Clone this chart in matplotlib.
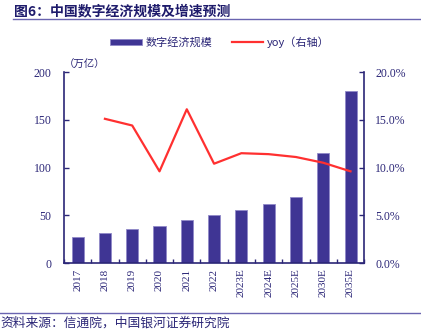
import matplotlib
matplotlib.use("Agg")
import matplotlib.pyplot as plt
import numpy as np

plt.rcParams['font.family'] = ['Noto Sans CJK SC', 'DejaVu Sans']

# 数据
years = ["2017", "2018", "2019", "2020", "2021", "2022",
         "2023E", "2024E", "2025E", "2030E", "2035E"]
scale = [27.2, 31.3, 35.8, 39.2, 45.5, 50.2, 56.0, 62.0, 69.0, 115.0, 180.0]
yoy = [np.nan, 15.1, 14.4, 9.6, 16.1, 10.4, 11.5, 11.4, 11.1, 10.5, 9.6]

navy = "#2b2677"
bar_c = "#3f3594"
serif = "Liberation Serif"

fig = plt.figure(figsize=(4.21, 3.31), dpi=100)
ax = fig.add_axes([0.152, 0.2054, 0.713, 0.577])
ax2 = ax.twinx()

x = np.arange(len(years))
ax.bar(x, scale, width=0.44, color=bar_c, edgecolor="#9089c8", linewidth=0.6,
       label="数字经济规模", zorder=2)
ax2.plot(x, yoy, color="#ff3030", linewidth=1.6, label="yoy（右轴）", zorder=3)

ax.set_xlim(-0.5, len(years) - 0.5)
ax.set_ylim(0, 200)
ax2.set_ylim(0, 20)
ax.set_yticks([0, 50, 100, 150, 200])
ax2.set_yticks([0, 5, 10, 15, 20])
ax2.set_yticklabels([f"{v:.1f}%" for v in [0, 5, 10, 15, 20]])

ax.set_xticks(x)
ax.set_xticklabels(years, rotation=90)
ax.set_xticks(np.arange(len(years) + 1) - 0.5, minor=True)

for a in (ax, ax2):
    for s in a.spines.values():
        s.set_visible(False)
ax2.set_zorder(2)
ax.set_zorder(1)
ax.patch.set_visible(False)
ax.spines['left'].set_visible(True)
ax.spines['bottom'].set_visible(True)
ax2.spines['right'].set_visible(True)
for s in (ax.spines['left'], ax.spines['bottom'], ax2.spines['right']):
    s.set_color(navy)
    s.set_linewidth(1.2)

ax.tick_params(axis='x', which='major', length=0, pad=4, labelsize=8, labelcolor=navy)
ax.tick_params(axis='x', which='minor', direction='in', length=3, color=navy, width=1)
ax.tick_params(axis='y', direction='in', length=3.5, color=navy, width=1,
               labelsize=8.5, labelcolor=navy, pad=9)
ax2.tick_params(axis='y', direction='in', length=3.5, color=navy, width=1,
                labelsize=8.5, labelcolor=navy, pad=8)
for lab in ax.get_xticklabels() + ax.get_yticklabels() + ax2.get_yticklabels():
    lab.set_family(serif)

ax.text(0.0, 1.01, "（万亿）", transform=ax.transAxes, fontsize=7.5,
        color=navy, fontstyle='italic', va='bottom', ha='left')

# 图例
h1, l1 = ax.get_legend_handles_labels()
h2, l2 = ax2.get_legend_handles_labels()
leg = fig.legend(h1 + h2, l1 + l2, loc='center', bbox_to_anchor=(0.523, 0.873),
                 ncol=2, frameon=False, fontsize=8, handlelength=2.8,
                 handleheight=0.5, columnspacing=1.7, handletextpad=0.4)
for t in leg.get_texts():
    t.set_color(navy)

# 标题与来源
fig.text(0.033, 0.965, "图6：中国数字经济规模及增速预测", fontsize=10,
         fontweight='bold', color="#1e1b6b", ha='left', va='center')
fig.add_artist(plt.Line2D([0.03, 1.0], [0.942, 0.942], color="#6a64b0", linewidth=1))
fig.add_artist(plt.Line2D([0.0, 1.0], [0.055, 0.055], color="#6a64b0", linewidth=1))
fig.text(0.0, 0.025, "资料来源：信通院，中国银河证券研究院", fontsize=9.2,
         color=navy, ha='left', va='center', fontstyle='italic')

fig.savefig("out.png", dpi=100)
plt.close(fig)
